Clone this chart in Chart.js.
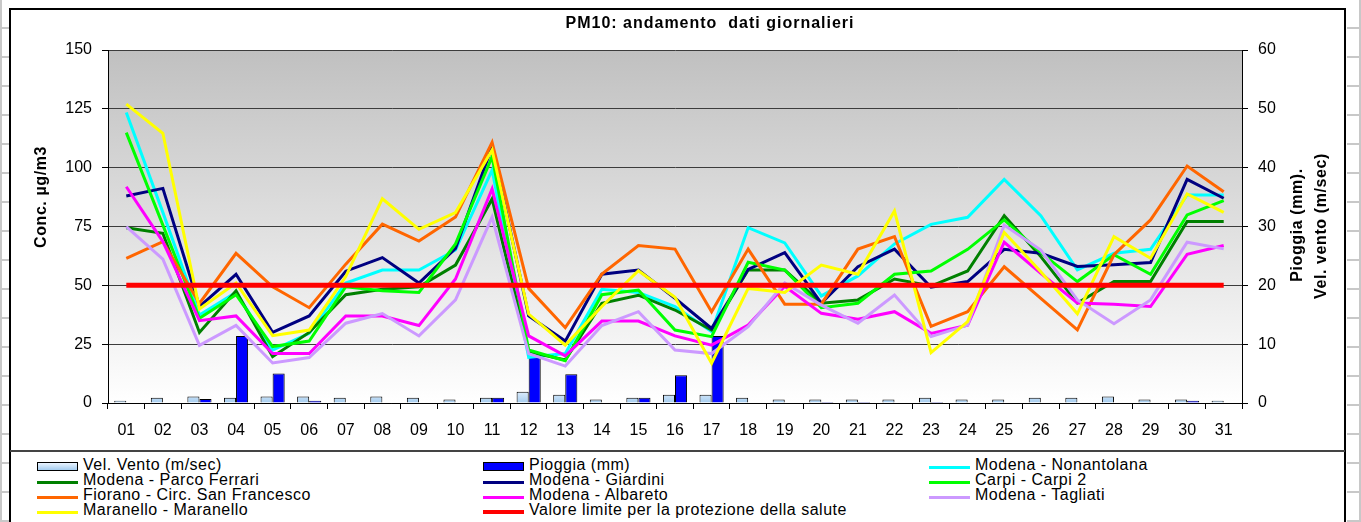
<!DOCTYPE html>
<html lang="it">
<head>
<meta charset="utf-8">
<title>PM10: andamento dati giornalieri</title>
<script src="https://cdn.jsdelivr.net/npm/chart.js@4/dist/chart.umd.min.js"></script>
<style>
  html, body { margin: 0; padding: 0; }
  body {
    width: 1361px; height: 522px; overflow: hidden; position: relative; background: #fff;
    font-family: "Liberation Sans", Arial, sans-serif;
  }
  .foglio {
    position: absolute; top: 0; height: 522px;
    background: repeating-linear-gradient(to bottom, #fff 0px, #fff 27px, #c8c8c8 27px, #c8c8c8 29px);
  }
  #cornice {
    position: absolute; left: 9px; top: 8px; width: 1333px; height: 540px;
    border: 2px solid #000; background: #fff;
  }
  #separatore { position: absolute; left: 10px; top: 450px; width: 1335px; border-top: 2px solid #444; }
  #grafico { position: absolute; left: 0; top: 0; }
  .voce { position: absolute; height: 16px; }
  .simbolo { position: absolute; left: 0; width: 41px; box-sizing: border-box; }
  .testo {
    position: absolute; top: -2px; font-size: 16px; line-height: 18px; letter-spacing: 0.5px;
    color: #000; white-space: nowrap;
  }
</style>
</head>
<body>
<div class="foglio" style="left:0;width:9px;border-left:2px solid #c8c8c8"></div>
<div class="foglio" style="left:1347px;width:12px;border-right:2px solid #c8c8c8"></div>
<div id="cornice"></div>
<div id="separatore"></div>
<canvas id="grafico" width="1361" height="450"></canvas>
<div id="legenda"></div>

<script>
// --- Dati ---
var giorni = ['01', '02', '03', '04', '05', '06', '07', '08', '09', '10', '11', '12', '13', '14', '15', '16',
  '17', '18', '19', '20', '21', '22', '23', '24', '25', '26', '27', '28', '29', '30', '31'];

var velVento = [0.4, 0.9, 1.1, 0.9, 1.1, 1.1, 0.9, 1.1, 0.9, 0.6, 0.9, 1.9, 1.4, 0.6, 0.9, 1.4,
  1.4, 0.9, 0.6, 0.6, 0.6, 0.6, 0.9, 0.6, 0.6, 0.9, 0.9, 1.1, 0.6, 0.6, 0.4];
var pioggia = [0, 0.1, 0.7, 11.4, 5.0, 0.4, 0, 0, 0, 0.1, 0.9, 8.0, 4.9, 0, 0.9, 4.7,
  11.4, 0, 0, 0.15, 0.15, 0, 0.15, 0, 0, 0, 0, 0, 0, 0.4, 0];

var nonantolana = [123.4, 81, 37.4, 47, 22.5, 29.6, 51, 56.5, 56.5, 65, 99, 19.4, 21, 48.3, 47, 41,
  30.3, 74.5, 68, 45.5, 54, 67.6, 75.9, 78.9, 95, 79.6, 56.6, 63.6, 65.3, 88.4, 88.4];
var parcoFerrari = [74.5, 72.1, 30, 47.7, 19.7, 30, 46, 48.3, 49.4, 58.6, 86.7, 21.8, 18.3, 42.4, 45.8, 39.5,
  31, 56.5, 56.5, 42.4, 43.8, 52.7, 49.7, 56.1, 79.6, 62.2, 42.5, 51.6, 51.6, 77.1, 77.1];
var giardini = [88, 91.2, 41, 54.7, 30, 37, 56, 61.8, 51, 65.7, 109, 37, 26.3, 54.7, 56.5, 44.5,
  31.7, 56.8, 63.9, 42.4, 57.9, 65.4, 49.2, 51.6, 65.3, 63.6, 58, 58.7, 59.7, 95, 87];
var carpi2 = [114.9, 75.6, 36, 46, 24, 26.3, 49.4, 47.7, 47, 67.6, 104.7, 22.5, 18, 46, 48, 31,
  28.2, 59.8, 56.5, 40.5, 42.4, 54.7, 56.1, 65.3, 77.8, 63.9, 51.6, 63, 54.7, 79.9, 86];
var fiorano = [61.5, 68.6, 42.3, 63.6, 49.4, 40.5, 59, 76, 68.8, 79, 110.8, 48.7, 32, 54.8, 66.9, 65.4,
  38.8, 65.4, 42, 42, 65.4, 70.7, 32.6, 38.8, 57.9, 44.5, 31.1, 63, 77.8, 100.7, 89.8];
var albareto = [91.9, 68.6, 35, 37, 21, 21, 37, 37, 32.9, 52.7, 91, 28.5, 20, 34.8, 34.8, 28.5,
  24.6, 33.1, 49.6, 38.1, 35.6, 38.8, 29.6, 33.1, 68.3, 55.1, 42.5, 42, 41, 63.2, 66.9];
var tagliati = [74.9, 61.1, 24.5, 33, 17, 19.3, 33.9, 38, 28.5, 43.8, 79, 21, 15.7, 32.9, 38.8, 22.5,
  21, 32.4, 51, 41.6, 33.9, 45.9, 28.2, 33.1, 75.6, 65, 43.8, 33.7, 43.8, 68.3, 65.5];
var maranello = [127, 114.6, 40, 51, 28.6, 31, 53.7, 86.8, 73.8, 80.9, 107.5, 37.8, 24.6, 41, 56.2, 44.9,
  16.9, 48.7, 47, 58.6, 54.7, 81.6, 21.4, 34.6, 72.5, 55.8, 37.9, 70.7, 61.5, 88.8, 81];
var limite = [50, 50, 50, 50, 50, 50, 50, 50, 50, 50, 50, 50, 50, 50, 50, 50,
  50, 50, 50, 50, 50, 50, 50, 50, 50, 50, 50, 50, 50, 50, 50];

var stazioni = ['Modena - Nonantolana', 'Modena - Parco Ferrari', 'Modena - Giardini', 'Carpi - Carpi 2',
  'Fiorano - Circ. San Francesco', 'Modena - Albareto', 'Modena - Tagliati', 'Maranello - Maranello'];
var coloriStazioni = ['#00ffff', '#008000', '#000080', '#00ff00', '#ff6600', '#ff00ff', '#cc99ff', '#ffff00'];
var serieStazioni = [nonantolana, parcoFerrari, giardini, carpi2, fiorano, albareto, tagliati, maranello];

var FONT = '"Liberation Sans", Arial, sans-serif';

// gradiente azzurro delle barre del vento
function coloreVento(context) {
  var chart = context.chart;
  var a = chart.chartArea;
  if (!a) return '#c6e0f8';
  var g = chart.ctx.createLinearGradient(0, a.bottom - 14, 0, a.bottom);
  g.addColorStop(0, '#eaf4ff');
  g.addColorStop(1, '#a4ccef');
  return g;
}

// --- Dataset ---
var datasets = [
  {
    type: 'bar', label: 'Vel. Vento (m/sec)', data: velVento, yAxisID: 'y1',
    backgroundColor: coloreVento, borderColor: '#000', borderWidth: 1,
    categoryPercentage: 0.66, barPercentage: 1, order: 30
  },
  {
    type: 'bar', label: 'Pioggia (mm)', data: pioggia, yAxisID: 'y1',
    backgroundColor: '#0000ff', borderColor: '#000', borderWidth: 1,
    categoryPercentage: 0.66, barPercentage: 1, order: 30
  }
];
stazioni.forEach(function (nome, i) {
  datasets.push({
    type: 'line', label: nome, data: serieStazioni[i], yAxisID: 'y',
    borderColor: coloriStazioni[i], backgroundColor: coloriStazioni[i],
    borderWidth: 3, pointRadius: 0, tension: 0, fill: false, order: 20 - i
  });
});
datasets.push({
  type: 'line', label: 'Valore limite per la protezione della salute', data: limite, yAxisID: 'y',
  borderColor: '#ff0000', backgroundColor: '#ff0000', borderWidth: 5, pointRadius: 0, fill: false, order: 0
});

// --- Sfondo grigio sfumato dell'area del grafico ---
var sfondoPlugin = {
  id: 'sfondo',
  beforeDraw: function (chart) {
    var a = chart.chartArea, ctx = chart.ctx;
    var g = ctx.createLinearGradient(0, a.top, 0, a.bottom);
    g.addColorStop(0, '#c0c0c0');
    g.addColorStop(1, '#ffffff');
    ctx.save();
    ctx.fillStyle = g;
    ctx.fillRect(a.left, a.top, a.right - a.left, a.bottom - a.top);
    ctx.restore();
  }
};

// --- Titolo e titoli degli assi ---
function testoVerticale(ctx, testo, x, y) {
  ctx.save();
  ctx.translate(x, y);
  ctx.rotate(-Math.PI / 2);
  ctx.fillText(testo, 0, 0);
  ctx.restore();
}

var titoliPlugin = {
  id: 'titoli',
  afterDraw: function (chart) {
    var ctx = chart.ctx;
    ctx.save();
    ctx.fillStyle = '#000';
    ctx.textAlign = 'center';
    ctx.textBaseline = 'middle';
    ctx.font = 'bold 16px ' + FONT;
    ctx.letterSpacing = '1px';
    ctx.fillText('PM10: andamento  dati giornalieri', 710, 24);
    ctx.letterSpacing = '0.6px';
    testoVerticale(ctx, 'Conc. µg/m3', 42, 197);
    testoVerticale(ctx, 'Pioggia (mm).', 1298, 225);
    testoVerticale(ctx, 'Vel. vento (m/sec)', 1322, 226);
    ctx.restore();
  }
};

var ctx = document.getElementById('grafico').getContext('2d');
var grafico = new Chart(ctx, {
  type: 'bar',
  data: { labels: giorni, datasets: datasets },
  options: {
    responsive: false,
    animation: false,
    layout: { padding: { top: 50, left: 0, right: 0, bottom: 0 } },
    plugins: {
      legend: { display: false },
      title: { display: false },
      tooltip: { enabled: false }
    },
    scales: {
      x: {
        grid: { drawOnChartArea: false, tickLength: 6, color: '#000', offset: true },
        border: { color: '#000' },
        ticks: { color: '#000', font: { size: 16, family: FONT }, padding: 12, maxRotation: 0, autoSkip: false },
        afterFit: function (s) { s.height = 47; }
      },
      y: {
        position: 'left', min: 0, max: 150,
        ticks: { stepSize: 25, color: '#000', font: { size: 16, family: FONT }, padding: 10 },
        grid: { color: '#3c3c3c', tickColor: '#000', tickLength: 6 },
        border: { color: '#000' },
        afterFit: function (s) { s.width = 108; }
      },
      y1: {
        position: 'right', min: 0, max: 60,
        ticks: { stepSize: 10, color: '#000', font: { size: 16, family: FONT }, padding: 10 },
        grid: { drawOnChartArea: false, color: '#000', tickLength: 6 },
        border: { color: '#000' },
        afterFit: function (s) { s.width = 119; }
      }
    }
  },
  plugins: [sfondoPlugin, titoliPlugin]
});

// --- Legenda su tre colonne ---
var colSimbolo = [37, 483, 929];
var rigaY = [458, 473, 488, 503];
var legenda = document.getElementById('legenda');
datasets.forEach(function (ds, i) {
  var voce = document.createElement('div');
  voce.className = 'voce';
  voce.style.left = colSimbolo[i % 3] + 'px';
  voce.style.top = rigaY[Math.floor(i / 3)] + 'px';
  var simbolo = document.createElement('div');
  simbolo.className = 'simbolo';
  if (ds.type === 'bar') {
    simbolo.style.top = '4px';
    simbolo.style.height = '9px';
    simbolo.style.border = '1px solid #000';
    simbolo.style.background = ds.label.indexOf('Vento') >= 0
      ? 'linear-gradient(#eaf4ff, #a4ccef)' : '#0000ff';
  } else {
    simbolo.style.height = (ds.borderWidth > 3 ? 4 : 3) + 'px';
    simbolo.style.top = (ds.borderWidth > 3 ? 7 : 8) + 'px';
    simbolo.style.background = ds.borderColor;
  }
  var testo = document.createElement('div');
  testo.className = 'testo';
  testo.style.left = '46px';
  testo.textContent = ds.label;
  voce.appendChild(simbolo);
  voce.appendChild(testo);
  legenda.appendChild(voce);
});
</script>
</body>
</html>
